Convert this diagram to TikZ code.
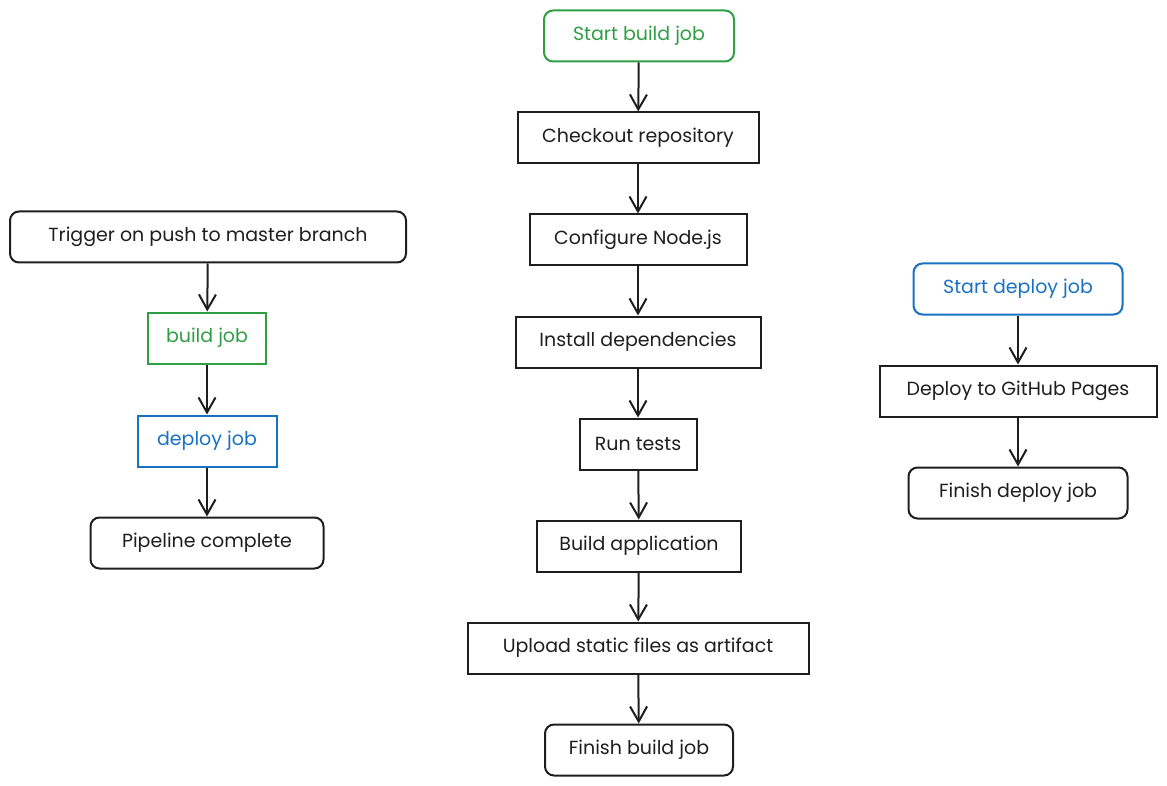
\documentclass[tikz,border=0pt]{standalone}
\usepackage{fontspec}
\setmainfont{Poppins}
\usetikzlibrary{arrows.meta}
\definecolor{jobgreen}{HTML}{2F9E44}
\definecolor{jobblue}{HTML}{1971C2}
\definecolor{ink}{HTML}{1E1E1E}
\begin{document}
\begin{tikzpicture}[x=1pt,y=-1pt,
  box/.style={draw=ink,line width=2pt,inner sep=0pt,minimum height=51pt,
    font=\fontsize{19}{22}\selectfont,text=ink},
  roundbox/.style={box,rounded corners=9pt},
  greenbox/.style={draw=jobgreen,text=jobgreen},
  bluebox/.style={draw=jobblue,text=jobblue},
  flow/.style={draw=ink,line width=2pt,-{Straight Barb[length=15pt,width=17pt,line width=2pt]}}]
\useasboundingbox (0,0) rectangle (1167,786);

% build job column
\node[roundbox,greenbox,minimum width=190pt] (sb) at (639,36) {Start build job};
\node[box,minimum width=241pt] (co) at (638,138) {Checkout repository};
\node[box,minimum width=217pt] (cn) at (638,240) {Configure Node.js};
\node[box,minimum width=245pt] (id) at (638,342) {Install dependencies};
\node[box,minimum width=117pt] (rt) at (638,444) {Run tests};
\node[box,minimum width=204pt] (ba) at (639,546) {Build application};
\node[box,minimum width=341pt] (up) at (638,648) {Upload static files as artifact};
\node[roundbox,minimum width=188pt] (fb) at (639,750) {Finish build job};

% pipeline overview
\node[roundbox,minimum width=396pt] (tr) at (208,237) {Trigger on push to master branch};
\node[box,greenbox,minimum width=118pt] (bj) at (207,338) {build job};
\node[box,bluebox,minimum width=139pt] (dj) at (207,441) {deploy job};
\node[roundbox,minimum width=233pt] (pc) at (207,543) {Pipeline complete};

% deploy job column
\node[roundbox,bluebox,minimum width=209pt] (sd) at (1018,289) {Start deploy job};
\node[box,minimum width=277pt] (dp) at (1018,391) {Deploy to GitHub Pages};
\node[roundbox,minimum width=219pt] (fd) at (1018,493) {Finish deploy job};

\draw[flow] (sb) -- (co);
\draw[flow] (co) -- (cn);
\draw[flow] (cn) -- (id);
\draw[flow] (id) -- (rt);
\draw[flow] (rt) -- (ba);
\draw[flow] (ba) -- (up);
\draw[flow] (up) -- (fb);

\draw[flow] (tr) -- (bj);
\draw[flow] (bj) -- (dj);
\draw[flow] (dj) -- (pc);

\draw[flow] (sd) -- (dp);
\draw[flow] (dp) -- (fd);
\end{tikzpicture}
\end{document}
